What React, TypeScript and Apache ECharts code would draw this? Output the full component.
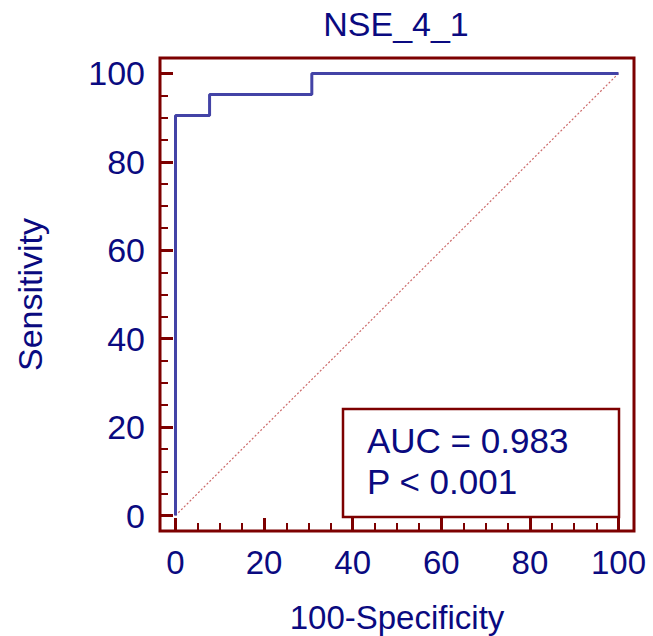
import React, { useEffect, useRef } from "react";
import * as echarts from "echarts";

// ROC curve (100-Specificity vs Sensitivity), step points
const rocFpr = [0, 0, 7.69, 7.69, 30.77, 30.77, 100];
const rocTpr = [0, 90.48, 90.48, 95.24, 95.24, 100, 100];

// Reference (chance) diagonal
const diagFpr = [0, 100];
const diagTpr = [0, 100];

const majorTicks = [0, 20, 40, 60, 80, 100];
const minorTicks = [5, 10, 15, 25, 30, 35, 45, 50, 55, 65, 70, 75, 85, 90, 95];

const chartTitle = "NSE_4_1";
const xName = "100-Specificity";
const yName = "Sensitivity";
const statLines = ["AUC = 0.983", "P < 0.001"];

const AXIS_MIN = -3.5;
const AXIS_MAX = 103.5;
const MAROON = "#7d0000";
const NAVY = "#0a0a80";
const FONT = "Liberation Sans, Arial, sans-serif";

export default function App() {
  const ref = useRef<HTMLDivElement>(null);

  useEffect(() => {
    if (!ref.current) return;
    const chart = echarts.init(ref.current, undefined, { renderer: "svg" });

    const majorAxis = (dim: "x" | "y") => ({
      type: "value" as const,
      min: AXIS_MIN,
      max: AXIS_MAX,
      position: dim === "x" ? "bottom" : "left",
      name: dim === "x" ? xName : yName,
      nameLocation: "middle" as const,
      nameGap: dim === "x" ? 70 : 113,
      nameTextStyle: { color: NAVY, fontSize: dim === "x" ? 33 : 34, fontFamily: FONT },
      axisLine: { show: false, onZero: false },
      splitLine: { show: false },
      axisTick: {
        show: true,
        inside: true,
        length: 13,
        customValues: majorTicks,
        lineStyle: { color: MAROON, width: 3 },
      },
      axisLabel: {
        show: true,
        customValues: majorTicks,
        margin: dim === "x" ? 15 : 15,
        color: NAVY,
        fontSize: dim === "x" ? 33 : 34,
        fontFamily: FONT,
      },
    });

    const minorAxis = (dim: "x" | "y") => ({
      type: "value" as const,
      min: AXIS_MIN,
      max: AXIS_MAX,
      position: dim === "x" ? "bottom" : "left",
      axisLine: { show: false, onZero: false },
      splitLine: { show: false },
      axisLabel: { show: false },
      axisTick: {
        show: true,
        inside: true,
        length: 8,
        customValues: minorTicks,
        lineStyle: { color: MAROON, width: 2 },
      },
    });

    const gridLeft = 160;
    const gridTop = 58;
    const gridRight = 19;
    const gridBottom = 105;

    chart.setOption({
      animation: false,
      backgroundColor: "#ffffff",
      title: {
        text: chartTitle,
        left: 391,
        textAlign: "center",
        top: 2,
        textStyle: { color: NAVY, fontSize: 34, fontWeight: "normal", fontFamily: FONT },
      },
      grid: {
        left: gridLeft,
        top: gridTop,
        right: gridRight,
        bottom: gridBottom,
        containLabel: false,
        outerBoundsMode: "none",
        show: true,
        borderColor: MAROON,
        borderWidth: 3,
        backgroundColor: "transparent",
      },
      xAxis: [majorAxis("x"), minorAxis("x")],
      yAxis: [majorAxis("y"), minorAxis("y")],
      series: [
        {
          type: "line",
          data: diagFpr.map((v, i) => [v, diagTpr[i]]),
          symbol: "none",
          silent: true,
          lineStyle: { color: "#cc6a6a", width: 1.2, type: [2, 2] },
        },
        {
          type: "line",
          data: rocFpr.map((v, i) => [v, rocTpr[i]]),
          symbol: "none",
          silent: true,
          lineStyle: { color: "#4343a6", width: 3 },
        },
      ],
      graphic: [
        {
          type: "rect",
          shape: { x: 343, y: 409, width: 276, height: 108 },
          style: { fill: "#ffffff", stroke: MAROON, lineWidth: 2.5 },
          z: 100,
        },
        {
          type: "text",
          x: 367,
          y: 440,
          style: {
            text: statLines[0],
            fill: NAVY,
            font: `35px ${FONT}`,
            textVerticalAlign: "middle",
          },
          z: 101,
        },
        {
          type: "text",
          x: 367,
          y: 481,
          style: {
            text: statLines[1],
            fill: NAVY,
            font: `35px ${FONT}`,
            textVerticalAlign: "middle",
          },
          z: 101,
        },
      ],
    });

    return () => chart.dispose();
  }, []);

  return (
    <div
      ref={ref}
      style={{ position: "fixed", left: 0, top: 0, width: 653, height: 636, background: "#fff" }}
    />
  );
}
